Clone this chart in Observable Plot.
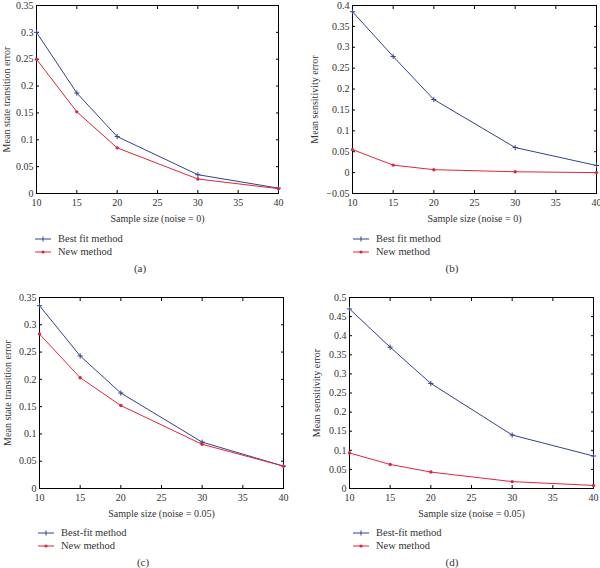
<!DOCTYPE html>
<html>
<head>
<meta charset="utf-8">
<script src="https://cdn.jsdelivr.net/npm/d3@7"></script>
<script src="https://cdn.jsdelivr.net/npm/@observablehq/plot@0.6"></script>
<style>
  html, body { margin: 0; padding: 0; background: #fff; }
  #root { position: relative; width: 600px; height: 568px; overflow: hidden; background: #fff;
          font-family: "Liberation Serif", "DejaVu Serif", serif; color: #333; }
  .panel { position: absolute; }
  .legend { position: absolute; font-family: "Liberation Serif", "DejaVu Serif", serif; font-size: 10.5px; line-height: 13px; }
  .legend .row { display: flex; align-items: center; height: 13px; }
  .legend svg { margin-right: 7px; }
  .cap { position: absolute; font-family: "Liberation Serif", "DejaVu Serif", serif; font-size: 11px; transform: translateX(-50%); }
</style>
</head>
<body>
<div id="root"></div>
<script>
// ---- data ----
const sampleSizes = [10, 15, 20, 30, 40];
const xTicks = [10, 15, 20, 25, 30, 35, 40];

const aBest = [0.300, 0.187, 0.106, 0.035, 0.010];
const aNew  = [0.250, 0.152, 0.085, 0.027, 0.009];
const bBest = [0.385, 0.278, 0.175, 0.060, 0.017];
const bNew  = [0.055, 0.018, 0.007, 0.002, 0.000];
const cBest = [0.335, 0.243, 0.175, 0.085, 0.041];
const cNew  = [0.283, 0.203, 0.152, 0.081, 0.041];
const dBest = [0.470, 0.370, 0.275, 0.140, 0.085];
const dNew  = [0.093, 0.063, 0.043, 0.018, 0.008];

const aYTicks = [0, 0.05, 0.1, 0.15, 0.2, 0.25, 0.3, 0.35];
const bYTicks = [-0.05, 0, 0.05, 0.1, 0.15, 0.2, 0.25, 0.3, 0.35, 0.4];
const cYTicks = [0, 0.05, 0.1, 0.15, 0.2, 0.25, 0.3, 0.35];
const dYTicks = [0, 0.05, 0.1, 0.15, 0.2, 0.25, 0.3, 0.35, 0.4, 0.45, 0.5];

const xLabels = ["Sample size (noise = 0)", "Sample size (noise = 0)",
                 "Sample size (noise = 0.05)", "Sample size (noise = 0.05)"];
const yLabels = ["Mean state transition error", "Mean sensitivity error",
                 "Mean state transition error", "Mean sensitivity error"];
const bestNames = ["Best fit method", "Best fit method", "Best-fit method", "Best-fit method"];
const newName = "New method";
const captions = ["(a)", "(b)", "(c)", "(d)"];

const BLUE = "#33428f";
const RED = "#e0263a";

// ---- layout ----
const layouts = [
  {left: 0,   top: 0,   h: 225, ml: 36, mr: 22, mt: 5, mb: 32, yOff: 34, legX: 35, legY: 232, capX: 140, capY: 262},
  {left: 300, top: 0,   h: 225, ml: 52, mr: 4,  mt: 5, mb: 32, yOff: 42, legX: 353, legY: 232, capX: 452, capY: 262},
  {left: 0,   top: 290, h: 230, ml: 39, mr: 17, mt: 7, mb: 32, yOff: 36, legX: 38, legY: 526, capX: 143, capY: 556},
  {left: 300, top: 290, h: 230, ml: 49, mr: 7,  mt: 7, mb: 32, yOff: 37, legX: 353, legY: 526, capX: 452, capY: 556}
];
const bestSeries = [aBest, bBest, cBest, dBest];
const newSeries = [aNew, bNew, cNew, dNew];
const yTickSets = [aYTicks, bYTicks, cYTicks, dYTicks];

const fmt = d3.format("~g");
const root = document.getElementById("root");

function panel(i) {
  const L = layouts[i];
  const yt = yTickSets[i];
  const best = sampleSizes.map((s, j) => ({x: s, y: bestSeries[i][j]}));
  const neu = sampleSizes.map((s, j) => ({x: s, y: newSeries[i][j]}));
  return Plot.plot({
    width: 300,
    height: L.h,
    marginLeft: L.ml, marginRight: L.mr, marginTop: L.mt, marginBottom: L.mb,
    style: {fontFamily: "'Liberation Serif', 'DejaVu Serif', serif", fontSize: "10px", color: "#333", background: "transparent"},
    x: {domain: [10, 40]},
    y: {domain: [yt[0], yt[yt.length - 1]]},
    marks: [
      Plot.axisX({ticks: xTicks, tickSize: -3, tickPadding: 8, tickFormat: fmt, stroke: "#000",
                  label: xLabels[i], labelAnchor: "center", labelOffset: 28, labelArrow: "none"}),
      Plot.axisX({anchor: "top", ticks: xTicks, tickSize: -3, tickFormat: () => "", label: null, stroke: "#000"}),
      Plot.axisY({ticks: yt, tickSize: -3, tickPadding: 6, tickFormat: fmt, stroke: "#000",
                  label: yLabels[i], labelAnchor: "center", labelOffset: L.yOff, labelArrow: "none"}),
      Plot.axisY({anchor: "right", ticks: yt, tickSize: -3, tickFormat: () => "", label: null, stroke: "#000"}),
      Plot.frame({stroke: "#000"}),
      Plot.line(best, {x: "x", y: "y", stroke: BLUE, strokeWidth: 1}),
      Plot.dot(best, {x: "x", y: "y", symbol: "plus", stroke: BLUE, strokeWidth: 1, r: 1.8}),
      Plot.line(neu, {x: "x", y: "y", stroke: RED, strokeWidth: 1}),
      Plot.dot(neu, {x: "x", y: "y", fill: RED, stroke: "none", r: 1.7})
    ]
  });
}

function swatch(color, isPlus) {
  const mark = isPlus
    ? `<line x1="8" y1="4.5" x2="8" y2="9.5" stroke="${color}" stroke-width="1"/>`
    : `<circle cx="8" cy="7" r="1.6" fill="${color}"/>`;
  return `<svg width="16" height="14" viewBox="0 0 16 14"><line x1="0" y1="7" x2="16" y2="7" stroke="${color}" stroke-width="1"/>${mark}</svg>`;
}

for (let i = 0; i < 4; i++) {
  const L = layouts[i];
  const div = document.createElement("div");
  div.className = "panel";
  div.style.left = L.left + "px";
  div.style.top = L.top + "px";
  div.appendChild(panel(i));
  root.appendChild(div);

  const leg = document.createElement("div");
  leg.className = "legend";
  leg.style.left = L.legX + "px";
  leg.style.top = L.legY + "px";
  leg.innerHTML =
    `<div class="row">${swatch(BLUE, true)}<span>${bestNames[i]}</span></div>` +
    `<div class="row">${swatch(RED, false)}<span>${newName}</span></div>`;
  root.appendChild(leg);

  const cap = document.createElement("div");
  cap.className = "cap";
  cap.style.left = L.capX + "px";
  cap.style.top = L.capY + "px";
  cap.textContent = captions[i];
  root.appendChild(cap);
}
</script>
</body>
</html>
